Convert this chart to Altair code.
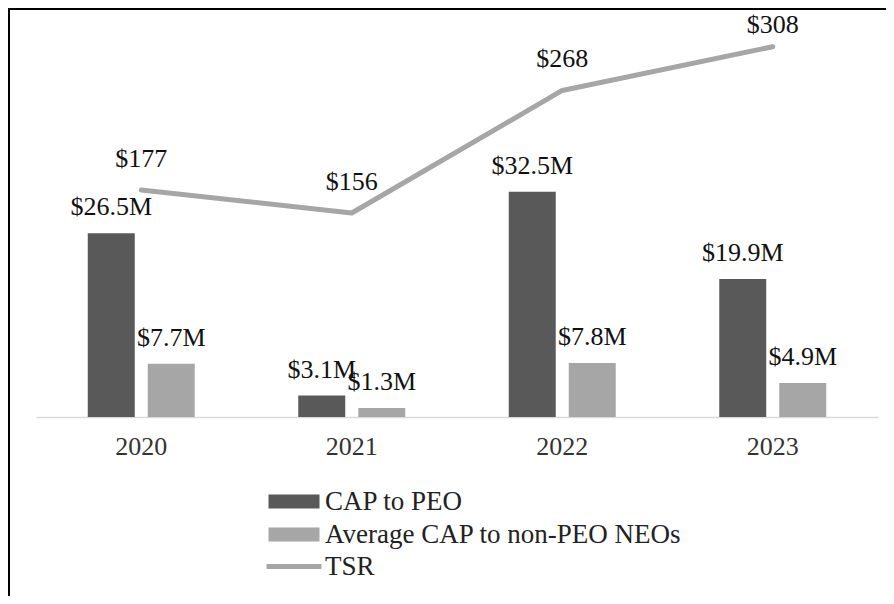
import altair as alt
import pandas as pd

years = ["2020", "2021", "2022", "2023"]
series = ["CAP to PEO", "Average CAP to non-PEO NEOs"]
cap_peo = [26.5, 3.1, 32.5, 19.9]
cap_neo = [7.7, 1.3, 7.8, 4.9]
tsr = [177, 156, 268, 308]

bars_df = pd.DataFrame({
    "year": years * 2,
    "series": [series[0]] * len(years) + [series[1]] * len(years),
    "value": cap_peo + cap_neo,
})
tsr_df = pd.DataFrame({"year": years, "tsr": tsr, "name": ["TSR"] * len(years)})

FONT = "Liberation Serif"
W, H = 842, 387
PAD_L, PAD_T, PAD_R, PAD_B = 28, 22, 8, 179

x_enc = alt.X(
    "year:N",
    sort=years,
    scale=alt.Scale(paddingInner=0, paddingOuter=0),
    axis=alt.Axis(
        title=None, labelFont=FONT, labelFontSize=26, labelColor="#333333",
        labelAngle=0, ticks=False, labelPadding=16, domainColor="#d9d9d9",
        domainWidth=1.5, grid=False,
    ),
)
xoff = alt.XOffset("series:N", sort=series,
                   scale=alt.Scale(paddingInner=0.217, paddingOuter=0.8625))
ybar = alt.Y("value:Q", scale=alt.Scale(domain=[0, 55.84], nice=False, zero=True), axis=None)
yline = alt.Y("tsr:Q", scale=alt.Scale(domain=[-30.5, 323.25], nice=False, zero=False), axis=None)

LEG_X = 244.5
LEG_OFF = 17.5
LEG_FS = 27

bars = alt.Chart(bars_df).mark_bar().encode(
    x=x_enc,
    xOffset=xoff,
    y=ybar,
    fill=alt.Fill(
        "series:N", sort=series,
        scale=alt.Scale(domain=series, range=["#595959", "#a6a6a6"]),
        legend=alt.Legend(
            title=None, orient="none", legendX=LEG_X, legendY=458,
            symbolType="M-3.643,-1H3.643V1H-3.643Z", symbolSize=196,
            symbolStrokeWidth=0, symbolOpacity=1,
            labelOffset=LEG_OFF, labelFont=FONT, labelFontSize=LEG_FS,
            labelColor="#222222", rowPadding=5, padding=0, labelLimit=500,
        ),
    ),
)

bar_text = alt.Chart(bars_df).transform_calculate(
    label="'$' + format(datum.value, '.1f') + 'M'"
).mark_text(font=FONT, fontSize=26, color="#111111", dy=-18, baseline="alphabetic").encode(
    x=x_enc, xOffset=xoff, y=ybar, text="label:N",
)

line = alt.Chart(tsr_df).mark_line(strokeWidth=5, strokeCap="round", strokeJoin="round").encode(
    x=x_enc,
    y=yline,
    stroke=alt.Stroke(
        "name:N",
        scale=alt.Scale(domain=["TSR"], range=["#a6a6a6"]),
        legend=alt.Legend(
            title=None, orient="none", legendX=LEG_X, legendY=523,
            symbolType="M-3.93,0H3.93", symbolSize=196, symbolStrokeWidth=5,
            labelOffset=LEG_OFF, labelFont=FONT, labelFontSize=LEG_FS,
            labelColor="#222222", padding=0,
        ),
    ),
)

line_text_base = alt.Chart(tsr_df).transform_calculate(label="'$' + datum.tsr")
line_text = line_text_base.transform_filter("datum.tsr <= 300").mark_text(
    font=FONT, fontSize=26, color="#111111", dy=-23, baseline="alphabetic"
).encode(x=x_enc, y=yline, text="label:N")
line_text_top = line_text_base.transform_filter("datum.tsr > 300").mark_text(
    font=FONT, fontSize=26, color="#111111", dy=-14, baseline="alphabetic"
).encode(x=x_enc, y=yline, text="label:N")

frame_df = pd.DataFrame({"k": [0]})
frame_left = alt.Chart(frame_df).mark_rule(color="#000000", strokeWidth=2).encode(
    x=alt.value(-PAD_L + 1), y=alt.value(-PAD_T), y2=alt.value(H + PAD_B),
)
frame_top = alt.Chart(frame_df).mark_rule(color="#000000", strokeWidth=2).encode(
    x=alt.value(-PAD_L), x2=alt.value(W + PAD_R), y=alt.value(-PAD_T + 1),
)

chart = alt.layer(bars, bar_text, line, line_text, line_text_top, frame_left, frame_top).resolve_scale(
    y="independent"
).properties(
    width=W, height=H,
    background="#ffffff",
    autosize=alt.AutoSizeParams(type="none"),
    padding={"left": PAD_L, "top": PAD_T, "right": PAD_R, "bottom": PAD_B},
).configure_view(stroke=None, strokeWidth=0)

chart.save("out.html", embed_options={"renderer": "svg", "actions": False})
